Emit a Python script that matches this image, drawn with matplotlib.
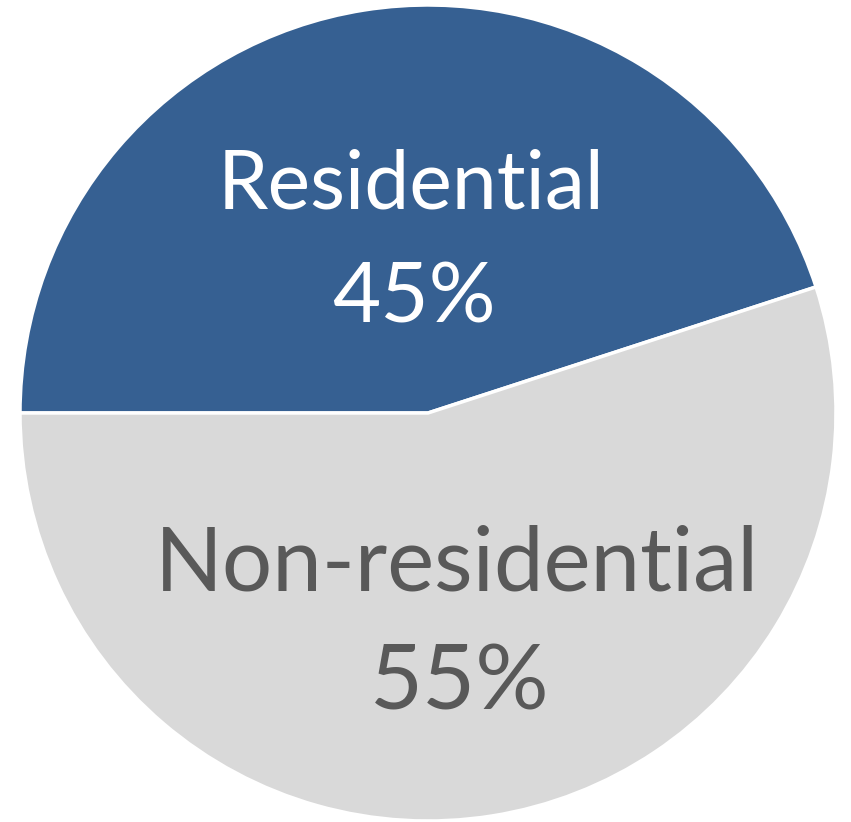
import matplotlib.pyplot as plt

labels = ['Residential', 'Non-residential']
shares = [45, 55]
colors = ['#366092', '#d9d9d9']
text_colors = ['white', '#595959']

plt.rcParams['font.family'] = ['Lato', 'DejaVu Sans']

fig = plt.figure(figsize=(8.51, 8.22), dpi=100)
ax = fig.add_axes([20 / 851, 1 / 822, 816 / 851, 816 / 822])

ax.pie(shares, colors=colors, startangle=180, counterclock=False, radius=1,
       wedgeprops=dict(edgecolor='white', linewidth=2.5))
ax.set_xlim(-1, 1)
ax.set_ylim(-1, 1)
ax.set_aspect('auto')
ax.axis('off')

# label positions (data coords, baseline)
ax.text(-0.042, 0.502, labels[0], color=text_colors[0], fontsize=58,
        ha='center', va='baseline')
ax.text(-0.035, 0.222, f'{shares[0]}%', color=text_colors[0], fontsize=60,
        ha='center', va='baseline')
ax.text(0.071, -0.434, labels[1], color=text_colors[1], fontsize=64,
        ha='center', va='baseline')
ax.text(0.078, -0.727, f'{shares[1]}%', color=text_colors[1], fontsize=66,
        ha='center', va='baseline')

fig.savefig('out.png', dpi=100)
